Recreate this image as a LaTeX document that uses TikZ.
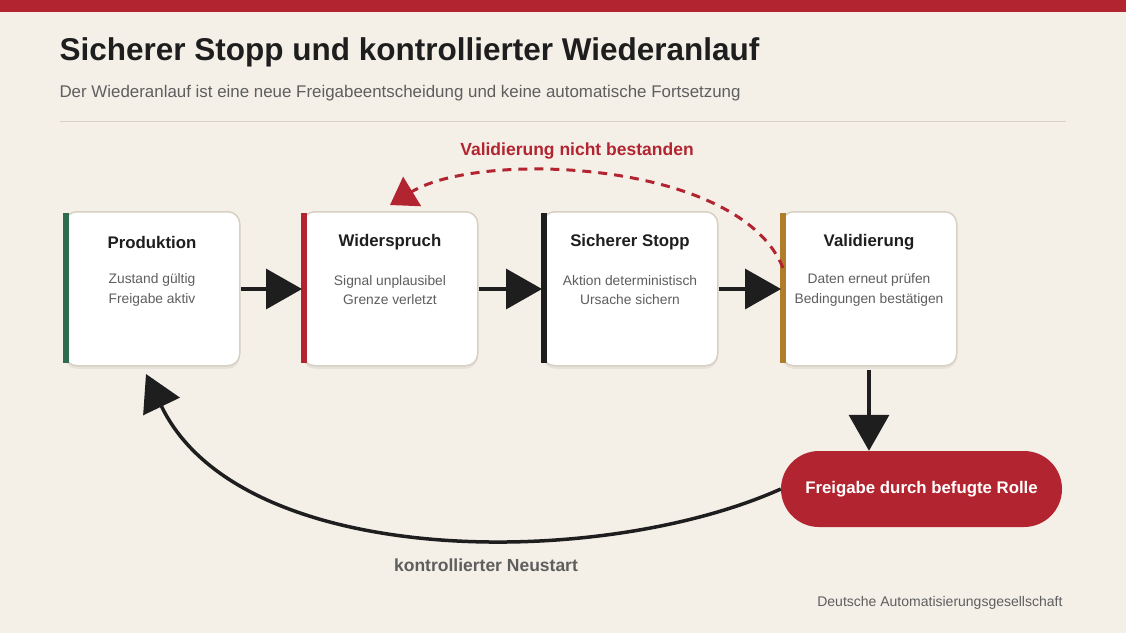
\documentclass[tikz,border=0pt]{standalone}
\usepackage{fontspec}
\setmainfont{Liberation Sans}
\usetikzlibrary{arrows.meta,shadows}
\definecolor{bg}{HTML}{F4F0E8}
\definecolor{dred}{HTML}{B22530}
\definecolor{dgreen}{HTML}{2E6B4F}
\definecolor{gold}{HTML}{B07D2A}
\definecolor{ink}{HTML}{1E1E1E}
\definecolor{gry}{HTML}{5E5E5E}
\definecolor{bord}{HTML}{D8D0C2}
\begin{document}
\begin{tikzpicture}[x=1pt,y=-1pt,
  box/.style={draw=bord,line width=1.5pt,fill=white,rounded corners=12pt,minimum width=175pt,minimum height=154pt,anchor=north west,drop shadow={shadow xshift=0pt,shadow yshift=-3pt,opacity=0.12}},
  ttl/.style={font=\bfseries\fontsize{16.8}{19}\selectfont,text=ink},
  sub/.style={font=\fontsize{13.8}{19.5}\selectfont,text=gry,align=center},
  arr/.style={line width=3.5pt,ink,-{Triangle[length=36pt,width=40pt]}}]
\useasboundingbox (0,0) rectangle (1126,633);
\fill[bg] (0,0) rectangle (1126,633);
\fill[dred] (0,0) rectangle (1126,12);
\node[anchor=west,font=\bfseries\fontsize{31.5}{34}\selectfont,text=ink] (title) at (56,52) {Sicherer Stopp und kontrollierter Wiederanlauf};
\node[anchor=west,font=\fontsize{16.9}{19}\selectfont,text=gry] (subt) at (56,93) {Der Wiederanlauf ist eine neue Freigabeentscheidung und keine automatische Fortsetzung};
\draw[bord,line width=1pt] (60,121) -- (1066,121);
\foreach \n/\x/\c/\t/\a/\b in {p/64/dgreen/Produktion/Zustand gültig/Freigabe aktiv,
  w/302/dred/Widerspruch/Signal unplausibel/Grenze verletzt,
  s/542/ink/Sicherer Stopp/Aktion deterministisch/Ursache sichern,
  v/781/gold/Validierung/Daten erneut prüfen/Bedingungen bestätigen}{
  \node[box] (\n) at (\x,211) {};
  \fill[\c] (\x-1,213) rectangle (\x+5,363);
  \node[ttl] (\n t) at (\x+88,242) {\t};
  \node[sub] (\n s) at (\x+88,290) {\a\\\b};
}
\draw[arr] (p.east|-0,289) -- (w.west|-0,289);
\draw[arr] (w.east|-0,289) -- (s.west|-0,289);
\draw[arr] (s.east|-0,289) -- (v.west|-0,289);
\node[fill=dred,rounded corners=38pt,minimum width=281pt,minimum height=76pt,text=white,font=\bfseries\fontsize{16.8}{19}\selectfont] (f) at (921.5,489) {Freigabe durch befugte Rolle};
\coordinate (vd) at (869,370);
\draw[arr] (vd) -- (f.north-|vd);
\coordinate (ne) at (146,374);
\draw[arr] (f.west) .. controls (600,570) and (240,570) .. (ne);
\node[font=\bfseries\fontsize{17.5}{19}\selectfont,text=gry] (nl) at (486,565) {kontrollierter Neustart};
\coordinate (vs) at (783,268);
\coordinate (ws) at (390,205);
\draw[dred,line width=3pt,dash pattern=on 9pt off 7pt,-{Triangle[length=26pt,width=34pt]}] (vs) .. controls (740,160) and (480,150) .. (ws);
\node[font=\bfseries\fontsize{17.5}{19}\selectfont,text=dred] (vl) at (577,151) {Validierung nicht bestanden};
\node[anchor=east,font=\fontsize{14}{16}\selectfont,text=gry] (ft) at (1066,603) {Deutsche Automatisierungsgesellschaft};
\end{tikzpicture}
\end{document}
